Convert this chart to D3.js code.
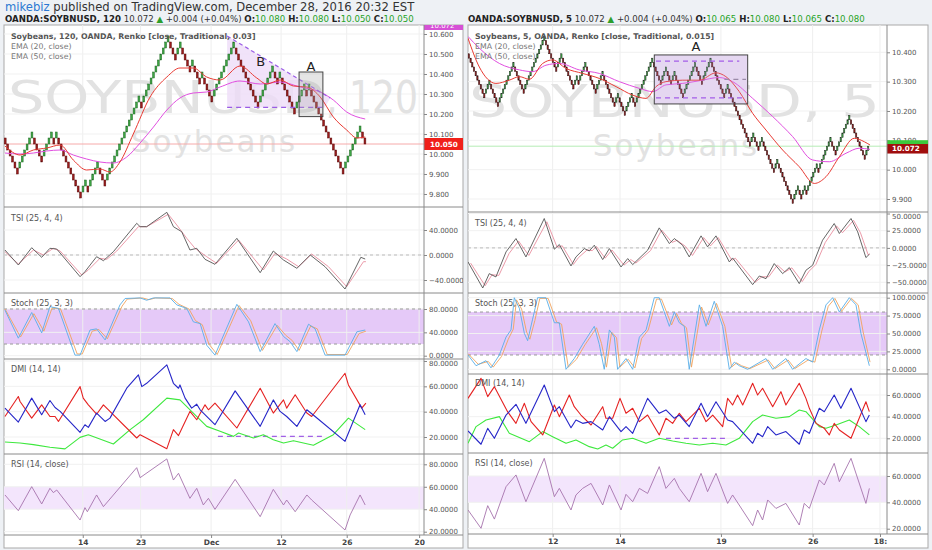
<!DOCTYPE html>
<html lang="en">
<head>
<meta charset="UTF-8">
<title>SOYBNUSD Renko 120 / 5</title>
<style>
  html, body { margin: 0; padding: 0; background: #eef1f5; }
  svg { display: block; font-family: "DejaVu Sans", sans-serif; }
</style>
</head>
<body>
<svg id="chart" width="932" height="550"></svg>
<script src="https://d3js.org/d3.v7.min.js"></script>
<script>
// ---------- data: left chart (120, brick 0.03) ----------
const brickLeft = 0.03;
const startLeft = 10.08;
const runsLeft = [-6, 6, -4, 4, -1, 1, -10, 2, -1, 4, -3, 14, -1, 11, -3, 2, -4, 1, -3, 1, -4, 9, -10, 6, -2, 1, -6, 4, -1, 1, -14, 7, -2];
const ema20Left = [[0.4,10.04],[6.6,9.995],[12.1,10.02],[17.6,10.03],[23.1,10.045],[28.5,9.97],[34,9.92],[39.5,9.925],[43.6,9.91],[47.7,9.96],[53.2,10.10],[60.1,10.285],[67,10.385],[72.4,10.43],[77.9,10.43],[83.4,10.385],[88.9,10.37],[97.1,10.44],[104,10.38],[108.1,10.35],[113.6,10.37],[119.1,10.34],[124.6,10.335],[130.1,10.285],[135.5,10.185],[141,10.12],[145.2,10.08],[148.6,10.085]];
const ema50Left = [[0.4,10.005],[6.6,10.0],[12.1,10.005],[17.6,10.015],[23.1,10.02],[28.5,9.995],[34,9.975],[39.5,9.96],[45,9.955],[50.5,9.985],[56,10.055],[61.5,10.135],[67,10.22],[72.4,10.28],[77.9,10.305],[83.4,10.31],[88.9,10.335],[97.1,10.365],[105.4,10.35],[113.6,10.36],[121.8,10.335],[130.1,10.31],[135.5,10.27],[141,10.21],[148.6,10.175]];
const tsiLeft = [[0.4,8],[5.9,-16],[11.4,11.7],[15.5,-3.7],[18.9,10.7],[21.7,9.6],[31.3,-34.7],[33.3,-26.7],[38.1,-2.7],[40.9,-9.1],[45,5.3],[54.6,50.7],[56,45.3],[58.7,45.3],[67,68.3],[69.7,45.3],[73.1,37.3],[76.5,8],[79.3,10.7],[82.7,-6.9],[86.8,-14.9],[95.8,26.7],[105.4,-28.3],[110.8,6.4],[115,-8],[120.5,-21.3],[126,0],[132.1,-18.7],[140.3,-54.4],[146.8,-3.7],[148.6,-6.4]];
const tsiSigLeft = [[0.4,5.3],[5.9,-14.4],[12.1,8],[16.2,0],[20.3,10.7],[23.1,6.4],[32,-32],[34.7,-24],[39.5,-5.3],[42.3,-6.9],[46.4,6.4],[55.3,45.3],[58.7,45.3],[67.6,65.1],[71.1,48],[75.2,26.7],[78.6,10.7],[83.4,-2.7],[87.5,-13.3],[96.5,24],[106.7,-24],[111.5,2.7],[116.3,-6.4],[121.2,-18.7],[126.6,1.6],[133.5,-18.7],[141,-50.7],[147.9,-10.7],[148.9,-10.7]];
const stochKLeft = [[0.4,78],[5.9,30],[11.4,74],[15.5,39],[18.9,84],[22.4,81],[29.2,1],[31.3,1],[35.4,44],[38.1,46],[41.6,27],[47.7,87],[49.8,98],[56,99],[58.7,95],[61.5,99],[68.3,99],[71.1,87],[75.2,81],[77.9,58],[80.7,55],[83.4,18],[86.8,1],[95.8,88],[100.6,58],[105.4,7],[111.5,55],[115,33],[117.7,24],[120.5,7],[125.3,54],[128,46],[132.1,1],[140.3,1],[145.2,41],[148.6,44]];
const stochDLeft = [[0.4,80],[6.8,32],[12.3,72],[16.4,42],[19.8,82],[23.3,80],[30.1,3],[32.2,3],[36.3,42],[39,45],[42.5,29],[48.6,85],[50.7,97],[57,99],[59.6,96],[62.4,99],[69.2,98],[72,88],[76.1,80],[78.8,60],[81.6,53],[84.3,20],[87.7,2],[96.7,86],[101.5,60],[106.3,9],[112.4,52],[115.9,35],[118.6,26],[121.4,9],[126.2,51],[128.9,46],[133,2],[141.2,2],[146.1,38],[148.9,42]];
const dmiBlueLeft = [[0.4,42.8],[5.9,31.8],[11.4,50.7],[15.5,37.6],[18.9,48.8],[21,43.3],[23.1,40.2],[31.3,23.7],[33.3,29.7],[34.7,27.6],[38.1,38.9],[41.6,32.3],[43.6,34.9],[50.5,58.5],[55.3,69],[56.7,59.8],[58.7,62.4],[67,76.9],[69.7,62.4],[71.8,58.5],[72.4,61.1],[74.5,50.7],[77.2,42.8],[79.3,45.9],[80.7,41.5],[86.8,29.7],[95.1,56.4],[105.4,28.4],[110.8,49.3],[113.6,40.2],[116.3,36.2],[120.5,28.4],[124.6,41.5],[128,36.2],[140.3,16.6],[146.5,45.4],[148.6,37.6]];
const dmiRedLeft = [[0.4,36.2],[5.9,52],[6.6,48],[11.4,34.9],[15.5,45.4],[18.9,36.2],[21,36.2],[22.4,32.3],[31.3,59.8],[32.6,50.7],[34.7,45.4],[38.1,38],[40.9,45.4],[54.6,19.2],[56,21.8],[67,10.8],[69.7,25.8],[71.8,21.1],[76.5,40.2],[79.3,33.6],[82.7,45.4],[84.1,41.5],[86.8,46.7],[95.8,27.1],[105.4,58.5],[110.8,38.9],[115,49.3],[116.3,42.8],[119.8,53.3],[124.6,38.9],[126.6,36.2],[140.3,70.3],[141.7,61.1],[147.2,42.8],[148.9,46.7]];
const dmiAdxLeft = [[0.4,16.1],[6.6,15.3],[12.1,14],[18.9,11.9],[25.1,10.6],[31.3,19.7],[34.7,21.8],[45,14.5],[51.9,25.8],[57.3,33.6],[67,50.7],[72.4,49.3],[77.9,38.9],[83.4,28.4],[88.9,24.5],[94.4,20.5],[96.5,23.1],[102.6,19.2],[106.7,21.8],[110.8,17.9],[115,15.3],[119.1,17.1],[127.3,13.5],[135.5,21.8],[141.7,34.9],[148.6,25.8]];
const rsiLeft = [[0.4,52.7],[5.9,38.7],[11.4,60.1],[15.5,44.7],[18.9,58.6],[20.3,54.8],[21.7,57.1],[31.3,30.4],[33.3,41.4],[34.3,37.8],[38.1,52.7],[40.9,42.3],[54.6,77],[56,68.1],[67,84.8],[69.7,66],[71.8,72],[76.5,49.7],[79.3,58.6],[82,43.8],[84.1,49.7],[86.8,39.9],[95.1,66.6],[105.4,33.4],[110.8,57.7],[115,43.8],[116.3,48.2],[119.8,37.8],[124.6,52.7],[126.6,48.2],[140.3,21.5],[142.4,34.9],[146.5,52.7],[148.6,43.8]];
const timeLabelsLeft = ["14", "23", "Dec", "12", "26", "20"];
const timeIdxLeft = [32.4, 56.2, 85.2, 114, 141, 170.8];
const priceTicksLeft = [9.8, 9.9, 10.0, 10.1, 10.2, 10.3, 10.4, 10.5, 10.6];

// ---------- data: right chart (5, brick 0.015) ----------
const brickRight = 0.015;
const startRight = 10.395;
const runsRight = [-10, 3, -5, 9, -6, 12, -7, 3, -7, 2, -1, 4, -6, 4, -7, 2, -4, 4, -2, 10, -5, 3, -3, 2, -5, 7, -4, 5, -8, 2, -13, 2, -3, 2, -7, 2, -9, 3, -2, 2, -1, 6, -1, 7, -3, 8, -9, 2];
const ema20Right = [[0,10.448],[6.6,10.35],[16.3,10.294],[24.1,10.305],[30,10.317],[35.8,10.308],[43.6,10.362],[49.4,10.374],[57.2,10.345],[66.9,10.328],[76.6,10.311],[86.4,10.283],[96.1,10.254],[103.9,10.243],[109.7,10.283],[115.5,10.30],[125.3,10.305],[135,10.305],[144.7,10.33],[150.5,10.317],[158.3,10.266],[166.1,10.192],[173.9,10.135],[183.6,10.067],[193.3,10.01],[202.1,9.953],[208.9,9.976],[216.7,10.044],[225.4,10.107],[231.3,10.095],[234.6,10.084]];
const ema50Right = [[0,10.454],[6.6,10.414],[18.3,10.362],[30,10.34],[37.7,10.334],[45.5,10.356],[53.3,10.362],[64.9,10.34],[76.6,10.328],[88.3,10.30],[100,10.277],[107.8,10.266],[115.5,10.289],[125.3,10.294],[135,10.303],[146.6,10.314],[154.4,10.30],[166.1,10.243],[177.8,10.181],[189.4,10.113],[201.1,10.033],[210.8,10.027],[220.6,10.056],[228.3,10.073],[234.6,10.069]];
const tsiRight = [[0,-20.4],[8.6,-58.3],[12.4,-37.4],[16.3,-42.2],[22.2,-5.8],[28,13.6],[33.8,-13.1],[44.5,42.7],[50.4,-1.9],[53.3,4.9],[60.1,-26.2],[63,-13.1],[67.9,-1],[70.8,-4.4],[73.7,3.9],[78.6,-17],[82.5,-1],[89.3,-27.7],[93.2,-15.5],[96.1,-24.3],[104.8,-3.4],[111.6,29.1],[117.5,6.3],[120.4,13.6],[125.2,3.9],[129.1,-13.1],[136,17.5],[139.8,1.5],[144.7,17.5],[152.5,-20.4],[154.4,-14.6],[166.1,-53.4],[170,-40.8],[173.9,-44.7],[178.7,-22.8],[183.6,-37.4],[187.5,-28.6],[193.3,-51.9],[197.2,-32.5],[201.1,-25.2],[206.9,11.2],[213.7,35.4],[216.7,20.9],[223.5,42.7],[227.4,23.3],[232.2,-14.1],[234.2,-9.2]];
const tsiSigRight = [[1.5,-22],[10,-55],[14,-39],[18,-40],[24,-8],[29.5,10],[35.5,-11],[46,38],[52,1],[55,3],[61.5,-24],[64.5,-14],[69.5,-3],[72.5,-4],[75,2],[80,-15],[84,-3],[91,-25],[95,-17],[98,-22],[106.5,-4],[113,26],[119,8],[122,11],[127,2],[131,-11],[137.5,15],[141.5,3],[146,15],[154,-18],[156,-15],[167.5,-50],[171.5,-42],[175.5,-42],[180.5,-25],[185,-35],[189,-29],[195,-49],[199,-34],[203,-24],[208.5,8],[215,32],[218.5,22],[225,40],[229,22],[233.5,-10],[234.5,-9]];
const stochKRight = [[0,20],[4.7,5],[10.5,12],[13.4,2],[18.3,20],[22.2,45],[25.1,55],[27,100],[30,85],[32.9,50],[34.8,40],[37.7,70],[40.6,100],[45.5,100],[50.4,65],[53.3,65],[57.2,0],[62,15],[66.9,35],[73.7,60],[76.6,35],[79.5,0],[82.5,55],[85.4,45],[87.3,0],[92.2,15],[96.1,0],[100,45],[103.9,55],[108.7,100],[111.6,100],[117.5,60],[120.4,80],[123.3,65],[126.2,60],[129.1,0],[135,90],[138.9,60],[143.7,95],[148.6,60],[152.5,0],[155.4,10],[158.3,5],[163.2,0],[173.9,15],[177.8,0],[185.5,15],[189.4,0],[197.2,15],[201.1,10],[205,55],[208.9,90],[212.8,100],[216.7,80],[222.5,100],[226.4,90],[229.3,50],[234.2,5]];
const stochDRight = [[0,22],[6,7],[11.8,11],[14.7,3],[19.6,18],[23.5,42],[26.4,56],[28.3,97],[31.3,84],[34.2,52],[36.1,42],[39,68],[41.9,99],[46.8,99],[51.7,66],[54.6,63],[58.5,3],[63.3,14],[68.2,34],[75,58],[77.9,36],[80.8,3],[83.8,52],[86.7,44],[88.6,3],[93.5,14],[97.4,2],[101.3,43],[105.2,55],[110,98],[112.9,98],[118.8,62],[121.7,78],[124.6,64],[127.5,58],[130.4,3],[136.3,87],[140.2,62],[145,92],[149.9,60],[153.8,3],[156.7,9],[159.6,5],[164.5,1],[175.2,13],[179.1,1],[186.8,13],[190.7,1],[198.5,13],[202.4,10],[206.3,52],[210.2,88],[214.1,99],[218,81],[223.8,99],[227.7,90],[230.6,52],[234.6,10]];
const dmiRedRight = [[0,56.9],[7.6,75.4],[11.5,58.5],[15.4,67.7],[23.1,44.6],[28,33.8],[32.9,52.3],[36.8,35.4],[43.6,23.1],[50.4,50.8],[53.3,40],[59.1,60],[62,49.2],[65.9,41.5],[71.8,32.3],[78.6,49.2],[80.5,38.5],[84.4,38.5],[88.7,56.9],[92.2,43.1],[96.1,47.7],[100,35.4],[104.8,41.5],[111.6,23.1],[115.5,38.5],[119.4,33.8],[123.3,43.1],[127.2,35.4],[135,47.7],[138.9,35.4],[142.8,41.5],[148.6,30.8],[151.5,56.9],[154.4,50.8],[157.3,60],[160.3,50.8],[166.1,70.8],[169,60],[171.9,66.2],[177.8,49.2],[182.6,63.1],[185.5,50.8],[193.3,70.8],[197.2,56.9],[199.2,47.7],[203.1,33.8],[207.9,29.2],[210.8,23.1],[213.7,33.8],[216.7,27.7],[223.5,20],[232.2,53.8],[234.2,44.6]];
const dmiBlueRight = [[0,26.8],[7.6,14.5],[11.5,29.2],[15.4,20],[22.2,41.5],[28,51.4],[33.8,33.8],[44.5,69.2],[50.4,44.6],[53.3,49.2],[60.1,29.8],[63,36.9],[66.9,33.8],[71.8,35.4],[78.6,27.7],[82.5,40],[89.3,26.2],[92.2,30.8],[96.1,24.6],[104.8,56.9],[111.6,43.1],[115.5,46.2],[120.4,38.5],[123.3,41.5],[129.1,30.8],[136,52.3],[139.8,40],[144.7,53.8],[151.5,36.9],[154.4,35.4],[166.1,15.4],[169,24.6],[171.9,21.5],[174.9,30.8],[179.7,23.1],[185.5,26.2],[193.3,14.5],[196.2,27.7],[199.2,24.6],[205,47.7],[207.9,44.6],[213.7,60],[217.6,47.7],[223.5,66.2],[232.2,35.4],[234.2,41.5]];
const dmiAdxRight = [[0,15.4],[4.7,30.8],[10.5,36.9],[18.3,40],[24.1,24.6],[35.8,16.9],[43.6,26.2],[49.4,21.5],[57.2,15.4],[63,18.5],[70.8,12.3],[75.7,10.2],[80.5,13.8],[84.4,10.8],[90.2,18.5],[96.1,20],[103.9,15.4],[111.6,20],[119.4,17.5],[127.2,15.4],[135,13.8],[142.8,15.4],[150.5,13.8],[158.3,20],[166.1,35.4],[171.9,41.5],[179.7,38.5],[187.5,40],[193.3,46.2],[197.2,44.6],[205,30.8],[208.9,29.2],[214.7,32.3],[222.5,36.9],[228.3,30.8],[234.2,23.1]];
const rsiRight = [[0,34.2],[7.6,20.3],[11.5,37.5],[15.4,27.3],[22.2,51.9],[28,60.8],[33.8,40.5],[44.5,73.4],[50.4,44.3],[53.3,50.6],[60.1,34.2],[63,45.6],[66.9,50.6],[71.8,54.4],[78.6,38],[82.5,53.2],[89.3,34.2],[92.2,46.1],[96.1,40.5],[100,50.6],[104.8,46.8],[111.6,67.1],[115.5,50.6],[120.4,58.2],[123.3,50.6],[129.1,40.5],[136,62],[139.8,48.1],[144.7,62],[151.5,39.2],[154.4,45.6],[166.1,22.3],[169,34.2],[171.9,26.6],[174.9,41.8],[179.7,35.4],[185.5,39.2],[193.3,22.8],[196.2,39.2],[199.2,35.4],[205,57],[207.9,53.2],[213.7,69.6],[216.7,55.7],[223.5,73.4],[232.2,39.2],[234.2,50.6]];
const timeLabelsRight = ["12", "14", "19", "26", "18:"];
const timeIdxRight = [49.4, 88.7, 147.6, 201.1, 240.4];
const priceTicksRight = [9.9, 10.0, 10.1, 10.2, 10.3, 10.4];

// ---------- renko bricks from run lengths (traditional reversal) ----------
function buildRenko(start, size, runs) {
  const bricks = [];
  let level = 0, prevOpen = null, prevDir = 0;
  runs.forEach(r => {
    const dir = Math.sign(r);
    for (let k = 0; k < Math.abs(r); k++) {
      let open;
      if (!bricks.length) open = 0;
      else if (dir === prevDir) open = level;
      else open = prevOpen;
      const close = open + dir;
      bricks.push({ open: start + open * size, close: start + close * size, up: dir > 0 });
      prevOpen = open; level = close; prevDir = dir;
    }
  });
  return bricks;
}

const svg = d3.select("#chart");
const fmt3 = d3.format(".3f"), fmt4 = d3.format(".4f");
let clipId = 0;

function line(g, data, x, y, color, w, curve) {
  g.append("path").datum(data)
    .attr("fill", "none").attr("stroke", color).attr("stroke-width", w)
    .attr("stroke-linejoin", "round")
    .attr("d", d3.line().x(d => x(d[0])).y(d => y(d[1])).curve(curve || d3.curveLinear));
}

function clipGroup(x0, y0, x1, y1) {
  const id = "clip" + (clipId++);
  svg.append("clipPath").attr("id", id).append("rect")
    .attr("x", x0).attr("y", y0).attr("width", x1 - x0).attr("height", y1 - y0);
  return svg.append("g").attr("clip-path", `url(#${id})`);
}

// text stretched horizontally to a given width (watermark)
function stretchedText(g, str, x0, y0, size, width) {
  const t = g.append("text").attr("font-size", size).attr("fill", "#e2e2e2").text(str);
  const natural = t.node().getComputedTextLength();
  t.attr("transform", `translate(${x0},${y0}) scale(${width / natural},1)`);
  return t;
}

function drawPane(cfg) {
  const x = d3.scaleLinear().domain([0, cfg.idxMax]).range([cfg.x0, cfg.xAxis]);

  // pane background
  svg.append("rect").attr("x", cfg.x0).attr("y", 25).attr("width", cfg.x1 - cfg.x0)
    .attr("height", cfg.bottom - 25).attr("fill", "#fff").attr("stroke", "#a9a9a9");

  const panels = {};
  Object.entries(cfg.panels).forEach(([name, p]) => {
    const y = d3.scaleLinear().domain([p.anchor[0], p.anchor[2]]).range([p.anchor[1], p.anchor[3]]);
    const gPlot = clipGroup(cfg.x0, p.top, cfg.xAxis, p.bottom);
    const gAxis = clipGroup(cfg.xAxis, p.top, cfg.x1, p.bottom);
    // grid
    gPlot.selectAll("line.vg").data(cfg.timeIdx).join("line")
      .attr("x1", d => x(d)).attr("x2", d => x(d)).attr("y1", p.top).attr("y2", p.bottom)
      .attr("stroke", "#eeeeee");
    gPlot.selectAll("line.hg").data(p.ticks).join("line")
      .attr("x1", cfg.x0).attr("x2", cfg.xAxis).attr("y1", d => y(d)).attr("y2", d => y(d))
      .attr("stroke", "#f1f1f1");
    // right axis
    const ax = gAxis.append("g").attr("transform", `translate(${cfg.xAxis},0)`)
      .call(d3.axisRight(y).tickValues(p.ticks).tickSize(3).tickSizeOuter(0).tickPadding(2)
        .tickFormat(name === "price" ? fmt3 : fmt4));
    ax.select(".domain").remove();
    ax.selectAll("text").attr("font-size", 7).attr("fill", "#555").attr("font-family", "DejaVu Sans, sans-serif")
      .attr("transform", d => {
        const yy = y(d);
        if (yy - p.top < 4) return `translate(0,${4 - (yy - p.top)})`;
        if (p.bottom - yy < 4) return `translate(0,${-(4 - (p.bottom - yy))})`;
        return null;
      });
    ax.selectAll("line").attr("stroke", "#888");
    panels[name] = { y, g: gPlot, gAxis, p };
  });

  // ----- price panel -----
  const pr = panels.price, yP = pr.y, gP = pr.g;
  stretchedText(gP, "SOYBNUSD", cfg.x0 + cfg.wmX, cfg.wmY, 44, cfg.wmLen[0]);
  stretchedText(gP, cfg.wmTail, cfg.x0 + cfg.wmX + cfg.wmLen[0], cfg.wmY, 44, cfg.wmLen[1]);
  gP.append("text").attr("x", cfg.subX).attr("y", cfg.wmY + 39).attr("text-anchor", "middle")
    .attr("font-size", 31).attr("letter-spacing", 2).attr("fill", "#e2e2e2").text("Soybeans");
  gP.append("line").attr("x1", cfg.x0).attr("x2", cfg.xAxis)
    .attr("y1", yP(cfg.lastLine)).attr("y2", yP(cfg.lastLine))
    .attr("stroke", cfg.lastLineColor).attr("stroke-width", 1);
  cfg.annotateBefore(gP, x, yP);

  const bricks = buildRenko(cfg.start, cfg.brick, cfg.runs);
  const bw = x(1) - x(0);
  gP.selectAll("rect.brick").data(bricks).join("rect")
    .attr("x", (d, i) => x(i) + bw * 0.12).attr("width", bw * 0.76)
    .attr("y", d => yP(Math.max(d.open, d.close)))
    .attr("height", d => Math.abs(yP(d.open) - yP(d.close)))
    .attr("fill", d => d.up ? "#3da444" : "#9a1c1c")
    .attr("stroke", d => d.up ? cfg.upStroke : cfg.downStroke).attr("stroke-width", 0.5);
  line(gP, cfg.ema50, x, yP, "#e14fe0", 1, d3.curveMonotoneX);
  line(gP, cfg.ema20, x, yP, "#e83a33", 1, d3.curveMonotoneX);
  cfg.annotateAfter(gP, x, yP);

  const legend = gP.append("g").attr("font-size", 7.8);
  legend.append("text").attr("x", cfg.x0 + 7).attr("y", 38.5).attr("fill", "#555").attr("font-weight", "bold")
    .text(cfg.title);
  legend.append("text").attr("x", cfg.x0 + 7).attr("y", 48.5).attr("fill", "#777").text("EMA (20, close)");
  legend.append("text").attr("x", cfg.x0 + 7).attr("y", 58.5).attr("fill", "#777").text("EMA (50, close)");
  cfg.priceLabels(pr.gAxis, yP);

  // ----- TSI -----
  const ts = panels.tsi;
  ts.g.append("line").attr("x1", cfg.x0).attr("x2", cfg.xAxis).attr("y1", ts.y(0)).attr("y2", ts.y(0))
    .attr("stroke", "#bbb").attr("stroke-dasharray", "3,3");
  line(ts.g, cfg.tsiSig, x, ts.y, "#e98f9f", 0.9);
  line(ts.g, cfg.tsi, x, ts.y, "#555", 0.9);

  // ----- Stoch -----
  const st = panels.stoch;
  st.g.insert("rect", "line").attr("x", cfg.x0).attr("width", cfg.xAxis - cfg.x0)
    .attr("y", st.y(80)).attr("height", st.y(20) - st.y(80)).attr("fill", "#e5c9f8");
  [20, 80].forEach(v => st.g.append("line").attr("x1", cfg.x0).attr("x2", cfg.xAxis)
    .attr("y1", st.y(v)).attr("y2", st.y(v)).attr("stroke", "#999").attr("stroke-dasharray", "3,3"));
  line(st.g, cfg.stochD, x, st.y, "#f0a35e", 0.9);
  line(st.g, cfg.stochK, x, st.y, "#58aee8", 0.9);

  // ----- DMI -----
  const dm = panels.dmi;
  dm.g.append("line").attr("x1", x(cfg.dmiDash[0])).attr("x2", x(cfg.dmiDash[1]))
    .attr("y1", dm.y(cfg.dmiDash[2])).attr("y2", dm.y(cfg.dmiDash[2]))
    .attr("stroke", "#a160e6").attr("stroke-width", 1.2).attr("stroke-dasharray", "5,4");
  line(dm.g, cfg.adx, x, dm.y, "#3ee83e", 1.1);
  line(dm.g, cfg.dmiRed, x, dm.y, "#e52222", 1.1);
  line(dm.g, cfg.dmiBlue, x, dm.y, "#2626c8", 1.1);

  // ----- RSI -----
  const rs = panels.rsi;
  rs.g.insert("rect", "line").attr("x", cfg.x0).attr("width", cfg.xAxis - cfg.x0)
    .attr("y", rs.y(60)).attr("height", rs.y(40) - rs.y(60)).attr("fill", "#f3e5fc");
  line(rs.g, cfg.rsi, x, rs.y, "#a673ad", 0.9);

  // indicator titles
  const titles = { tsi: "TSI (25, 4, 4)", stoch: "Stoch (25, 3, 3)", dmi: "DMI (14, 14)", rsi: "RSI (14, close)" };
  Object.entries(titles).forEach(([k, t]) => {
    panels[k].g.append("text").attr("x", cfg.x0 + 7).attr("y", panels[k].p.top + cfg.titleDy[k])
      .attr("font-size", 8).attr("fill", "#555").text(t);
  });

  // separators
  Object.values(cfg.panels).forEach(p => {
    svg.append("line").attr("x1", cfg.x0).attr("x2", cfg.x1).attr("y1", p.bottom).attr("y2", p.bottom)
      .attr("stroke", "#8a8a8a");
  });
  svg.append("line").attr("x1", cfg.xAxis).attr("x2", cfg.xAxis).attr("y1", 25).attr("y2", cfg.panels.rsi.bottom)
    .attr("stroke", "#8a8a8a");

  // time axis
  const tAx = svg.append("g").attr("transform", `translate(0,${cfg.panels.rsi.bottom})`)
    .call(d3.axisBottom(x).tickValues(cfg.timeIdx).tickSize(3).tickSizeOuter(0).tickPadding(1.5)
      .tickFormat((d, i) => cfg.timeLabels[i]));
  tAx.select(".domain").remove();
  tAx.selectAll("line").attr("stroke", "#888");
  tAx.selectAll("text").attr("font-size", 7.5).attr("fill", "#444").attr("font-weight", "bold")
    .attr("font-family", "DejaVu Sans, sans-serif");
}

function dashed(g, x, y, x0, x1, v, color) {
  g.append("line").attr("x1", x(x0)).attr("x2", x(x1)).attr("y1", y(v)).attr("y2", y(v))
    .attr("stroke", color).attr("stroke-width", 1.2).attr("stroke-dasharray", "5,4");
}

drawPane({
  x0: 4, xAxis: 424, x1: 463, bottom: 548, idxMax: 172.8,
  panels: {
    price: { top: 25, bottom: 207, anchor: [10.6, 34, 9.8, 194], ticks: priceTicksLeft },
    tsi:   { top: 207, bottom: 293, anchor: [40, 230, -40, 280], ticks: [-40, 0, 40] },
    stoch: { top: 293, bottom: 359, anchor: [80, 309, 0, 355.7], ticks: [0, 40, 80] },
    dmi:   { top: 359, bottom: 454, anchor: [80, 361, 20, 437], ticks: [20, 40, 60, 80] },
    rsi:   { top: 454, bottom: 535, anchor: [80, 464.3, 20, 531.7], ticks: [20, 40, 60, 80] }
  },
  titleDy: { tsi: 14, stoch: 13, dmi: 13, rsi: 13 },
  start: startLeft, brick: brickLeft, runs: runsLeft,
  upStroke: "#236b27", downStroke: "#5c0f0f",
  ema20: ema20Left, ema50: ema50Left, tsi: tsiLeft, tsiSig: tsiSigLeft,
  stochK: stochKLeft, stochD: stochDLeft, dmiRed: dmiRedLeft, dmiBlue: dmiBlueLeft, adx: dmiAdxLeft,
  dmiDash: [88, 131, 20.5], rsi: rsiLeft,
  timeIdx: timeIdxLeft, timeLabels: timeLabelsLeft,
  wmTail: ", 120", wmLen: [318, 92], wmX: 4, wmY: 113, subX: 214,
  lastLine: 10.05, lastLineColor: "#f6aaaa",
  title: "Soybeans, 120, OANDA, Renko [close, Traditional, 0.03]",
  annotateBefore(g, x, y) {
    g.append("polygon")
      .attr("points", [[91.8, 10.59], [134.2, 10.28], [132, 10.233], [91.8, 10.233]].map(d => [x(d[0]), y(d[1])].join(",")).join(" "))
      .attr("fill", "#eedcf7").attr("opacity", 0.8);
  },
  annotateAfter(g, x, y) {
    g.append("line").attr("x1", x(91.8)).attr("y1", y(10.59)).attr("x2", x(134.2)).attr("y2", y(10.28))
      .attr("stroke", "#9b5de5").attr("stroke-width", 1.2).attr("stroke-dasharray", "4,3");
    dashed(g, x, y, 91.8, 132, 10.233, "#9b5de5");
    g.append("rect").attr("x", x(121.4)).attr("y", y(10.41)).attr("width", x(131.2) - x(121.4))
      .attr("height", y(10.187) - y(10.41)).attr("fill", "rgba(170,170,170,0.3)").attr("stroke", "#444");
    g.append("text").attr("x", x(126.3)).attr("y", y(10.41) - 1).attr("text-anchor", "middle")
      .attr("font-size", 13).attr("fill", "#222").text("A");
    g.append("text").attr("x", x(105.6)).attr("y", y(10.44)).attr("text-anchor", "middle")
      .attr("font-size", 13).attr("fill", "#222").text("B");
  },
  priceLabels(g, y) {
    g.append("rect").attr("x", 424).attr("y", 20).attr("width", 39).attr("height", 10).attr("fill", "#d651d6");
    g.append("text").attr("x", 430).attr("y", 27.5).attr("font-size", 7).attr("fill", "#fff").text("10.072");
    g.append("rect").attr("x", 424).attr("y", y(10.05) - 6).attr("width", 39).attr("height", 12).attr("fill", "#f0201a");
    g.append("text").attr("x", 430).attr("y", y(10.05) + 2.5).attr("font-size", 7.2).attr("font-weight", "bold")
      .attr("fill", "#fff").text("10.050");
  }
});

drawPane({
  x0: 468, xAxis: 887, x1: 928, bottom: 548, idxMax: 244.5,
  panels: {
    price: { top: 25, bottom: 212, anchor: [10.4, 52.3, 9.9, 199], ticks: priceTicksRight },
    tsi:   { top: 212, bottom: 293, anchor: [25, 230.7, -50, 282.3], ticks: [-50, -25, 0, 25, 50] },
    stoch: { top: 293, bottom: 374, anchor: [100, 297.7, 0, 369.3], ticks: [0, 25, 50, 75, 100] },
    dmi:   { top: 374, bottom: 453, anchor: [60, 395, 20, 438.3], ticks: [20, 40, 60] },
    rsi:   { top: 453, bottom: 534, anchor: [60, 476, 20, 528.7], ticks: [20, 40, 60] }
  },
  titleDy: { tsi: 14, stoch: 13, dmi: 12, rsi: 13 },
  start: startRight, brick: brickRight, runs: runsRight,
  upStroke: "#1d2a1d", downStroke: "#2a1010",
  ema20: ema20Right, ema50: ema50Right, tsi: tsiRight, tsiSig: tsiSigRight,
  stochK: stochKRight, stochD: stochDRight, dmiRed: dmiRedRight, dmiBlue: dmiBlueRight, adx: dmiAdxRight,
  dmiDash: [115.5, 150.5, 20], rsi: rsiRight,
  timeIdx: timeIdxRight, timeLabels: timeLabelsRight,
  wmTail: ", 5", wmLen: [333, 78], wmX: 1, wmY: 117, subX: 676,
  lastLine: 10.08, lastLineColor: "#b5ecb5",
  title: "Soybeans, 5, OANDA, Renko [close, Traditional, 0.015]",
  annotateBefore(g, x, y) {
    g.append("rect").attr("x", x(108.7)).attr("y", y(10.391)).attr("width", x(163.2) - x(108.7))
      .attr("height", y(10.224) - y(10.391)).attr("fill", "#ece1f5");
  },
  annotateAfter(g, x, y) {
    g.append("rect").attr("x", x(108.7)).attr("y", y(10.391)).attr("width", x(163.2) - x(108.7))
      .attr("height", y(10.224) - y(10.391)).attr("fill", "rgba(200,170,230,0.18)").attr("stroke", "#444");
    dashed(g, x, y, 109.7, 158.3, 10.37, "#a45ee8");
    dashed(g, x, y, 149.6, 162.2, 10.308, "#9a8aa8");
    dashed(g, x, y, 109.7, 162, 10.245, "#a45ee8");
    g.append("text").attr("x", x(133)).attr("y", y(10.404)).attr("text-anchor", "middle")
      .attr("font-size", 13).attr("fill", "#222").text("A");
  },
  priceLabels(g, y) {
    g.append("rect").attr("x", 887).attr("y", y(10.08) - 6).attr("width", 41).attr("height", 8).attr("fill", "#3cc93c");
    g.append("rect").attr("x", 887).attr("y", y(10.072) - 4.5).attr("width", 41).attr("height", 9.5).attr("fill", "#a00d0d");
    g.append("text").attr("x", 892).attr("y", y(10.072) + 2.7).attr("font-size", 7.2).attr("font-weight", "bold")
      .attr("fill", "#fff").text("10.072");
  }
});

// ---------- header ----------
const h1 = svg.append("text").attr("x", 5).attr("y", 11).attr("font-size", 11.6);
h1.append("tspan").attr("fill", "#2a78d2").text("mikebiz");
h1.append("tspan").attr("fill", "#333").text(" published on TradingView.com, December 28, 2016 20:32 EST");

function quoteLine(x0, sym, o, h, l, c) {
  const t = svg.append("text").attr("x", x0).attr("y", 21.5).attr("font-size", 8.6).attr("fill", "#333");
  t.append("tspan").attr("font-weight", "bold").attr("fill", "#222").text(sym);
  t.append("tspan").text(" 10.072 ");
  t.append("tspan").attr("fill", "#2c9e2c").text("▲");
  t.append("tspan").text(" +0.004 (+0.04%) ");
  [["O:", o], [" H:", h], [" L:", l], [" C:", c]].forEach(([k, v]) => {
    t.append("tspan").attr("font-weight", "bold").attr("fill", "#222").text(k);
    t.append("tspan").attr("fill", "#25a325").text(v);
  });
}
quoteLine(5, "OANDA:SOYBNUSD, 120", "10.080", "10.080", "10.050", "10.050");
quoteLine(468, "OANDA:SOYBNUSD, 5", "10.065", "10.080", "10.065", "10.080");
</script>
</body>
</html>
